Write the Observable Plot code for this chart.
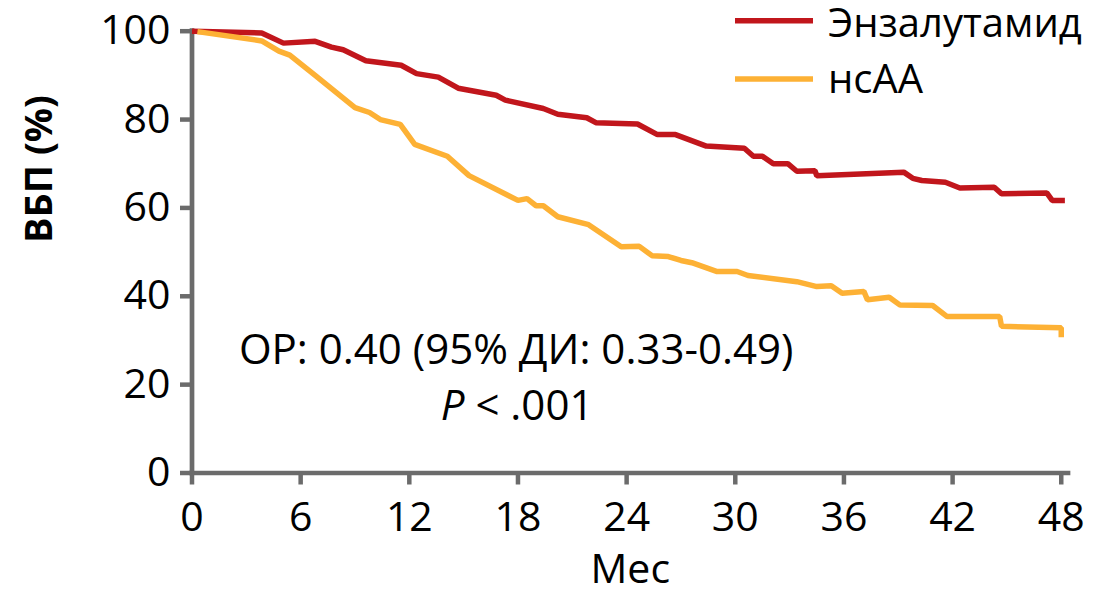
<!DOCTYPE html>
<html><head><meta charset="utf-8">
<script src="https://cdn.jsdelivr.net/npm/d3@7"></script>
<script src="https://cdn.jsdelivr.net/npm/@observablehq/plot@0.6"></script>
<style>
body{margin:0;background:#fff;}
#wrap{position:relative;width:1117px;height:591px;}
</style></head><body><div id="wrap"></div>
<script>
// Data (months, PFS %)
const enzaMonths = [0,3.85,5.05,6.8,7.7,8.35,9.6,11.55,12.4,13.6,14.7,16.8,17.3,19.4,20.2,21.8,22.3,24.6,25.7,26.7,28.4,30.5,31.0,31.5,32.1,32.9,33.4,34.4,34.5,39.3,39.8,40.3,41.6,42.4,44.3,44.7,47.2,47.5,48.2];
const enzaPFS    = [100,99.6,97.3,97.7,96.4,95.8,93.3,92.3,90.4,89.6,87.1,85.5,84.4,82.5,81.2,80.4,79.3,79.0,76.6,76.6,74.0,73.5,71.7,71.7,70.0,70.0,68.3,68.4,67.3,68.1,66.7,66.2,65.8,64.5,64.7,63.2,63.4,61.7,61.7];
const nsaaMonths = [0.3,3.85,4.8,5.4,6.8,9.0,9.8,10.4,11.5,12.3,14.1,15.3,18.0,18.5,19.0,19.4,20.2,21.9,23.7,24.7,25.4,26.3,27.0,27.6,29.0,30.1,30.7,33.4,34.5,35.3,35.9,37.1,37.3,38.5,39.1,40.9,41.7,44.6,44.7,48.0,48.0];
const nsaaPFS    = [99.9,97.8,95.5,94.6,90.0,82.7,81.6,80.0,78.9,74.4,71.7,67.3,61.7,62.1,60.5,60.5,58.0,56.2,51.2,51.3,49.2,49.0,48.1,47.6,45.6,45.6,44.7,43.3,42.2,42.4,40.7,41.1,39.2,39.8,38.0,37.9,35.4,35.4,33.2,32.9,30.7];
const seriesNames = ["Энзалутамид", "нсАА"];
const seriesColors = ["#C1161C", "#FDB135"];
const xTicks = [0, 6, 12, 18, 24, 30, 36, 42, 48];
const yTicks = [0, 20, 40, 60, 80, 100];
const xLabel = "Мес";
const yLabel = "ВБП (%)";
const annotationLines = ["ОР: 0.40 (95% ДИ: 0.33-0.49)", "P < .001"];

const rows = [
  ...enzaMonths.map((m, i) => ({month: m, pfs: enzaPFS[i], arm: seriesNames[0]})),
  ...nsaaMonths.map((m, i) => ({month: m, pfs: nsaaPFS[i], arm: seriesNames[1]}))
];

const axisGray = "#6b6b6b";
const font = "'Open Sans', sans-serif";

const chart = Plot.plot({
  width: 1117,
  height: 591,
  marginLeft: 191.5,
  marginRight: 49,
  marginTop: 30.7,
  marginBottom: 118.5,
  style: {fontFamily: font, background: "#fff", color: "#000"},
  x: {domain: [0, 48.4]},
  y: {domain: [0, 100]},
  color: {domain: seriesNames, range: seriesColors},
  marks: [
    Plot.axisX({ticks: xTicks, tickSize: 12, tickPadding: 17, fontSize: 41, stroke: axisGray, fill: "#000", strokeWidth: 4.5, label: null, tickFormat: d => String(d)}),
    Plot.axisY({ticks: yTicks, tickSize: 11.5, tickPadding: 10, fontSize: 41, stroke: axisGray, fill: "#000", strokeWidth: 4.5, label: null, tickFormat: d => String(d)}),
    Plot.ruleY([0], {stroke: axisGray, strokeWidth: 4.7, strokeLinecap: "square"}),
    Plot.ruleX([0], {stroke: axisGray, strokeWidth: 4.7, strokeLinecap: "square"}),
    Plot.line(rows.filter(d => d.arm === seriesNames[0]), {x: "month", y: "pfs", stroke: "arm", strokeWidth: 5.5, strokeLinecap: "butt", strokeLinejoin: "miter"}),
    Plot.line(rows.filter(d => d.arm === seriesNames[1]), {x: "month", y: "pfs", stroke: "arm", strokeWidth: 5.5, strokeLinecap: "butt", strokeLinejoin: "miter"}),
    Plot.text([annotationLines[0]], {x: 17.9, y: 24.7, text: d => d, fontSize: 42, lineAnchor: "bottom", textAnchor: "middle", fill: "#000"}),
    Plot.text([annotationLines[1]], {x: 17.95, y: 12.1, text: d => d, fontSize: 42, lineAnchor: "bottom", textAnchor: "middle", fill: "#000"}),
    Plot.text([xLabel], {frameAnchor: "bottom", dy: 109.5, text: d => d, fontSize: 41, lineAnchor: "bottom", fill: "#000"}),
    Plot.text([yLabel], {frameAnchor: "left", dx: -139.8, dy: -9.1, rotate: -90, text: d => d, fontSize: 38, fontWeight: "bold", lineAnchor: "bottom", fill: "#000"})
  ]
});

document.getElementById("wrap").appendChild(chart);

// italic P in the p-value line
const svg = d3.select(chart);
svg.selectAll("text").each(function() {
  const t = d3.select(this);
  if (t.text() === annotationLines[1]) {
    t.text(null);
    t.append("tspan").attr("font-style", "italic").text("P");
    t.append("tspan").text(" < .001");
  }
});

// legend (top right)
const leg = svg.append("g").attr("font-family", font).attr("font-size", 40).attr("text-anchor", "start");
seriesNames.forEach((name, i) => {
  const yMid = [20.7, 79][i];
  leg.append("line").attr("x1", 735).attr("x2", 813).attr("y1", yMid).attr("y2", yMid)
     .attr("stroke", seriesColors[i]).attr("stroke-width", 5.5);
  leg.append("text").attr("x", 828).attr("y", [37, 93][i]).attr("fill", "#000").attr("text-anchor", "start").text(name);
});
</script></body></html>
